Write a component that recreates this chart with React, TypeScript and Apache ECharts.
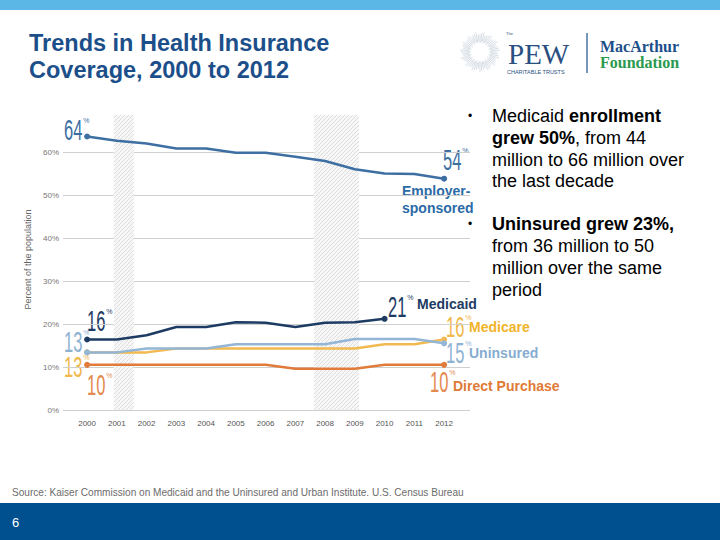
import React, { useEffect, useRef } from "react";
import * as echarts from "echarts";

const years = [2000, 2001, 2002, 2003, 2004, 2005, 2006, 2007, 2008, 2009, 2010, 2011, 2012];
const employer = [63.6, 62.6, 62.0, 60.8, 60.8, 59.8, 59.8, 58.9, 57.9, 56.0, 55.0, 54.9, 53.8];
const medicaid = [16.4, 16.4, 17.4, 19.3, 19.3, 20.4, 20.3, 19.3, 20.3, 20.4, 21.2];
const uninsured = [13.4, 13.4, 14.3, 14.3, 14.3, 15.3, 15.3, 15.3, 15.3, 16.5, 16.5, 16.5, 15.5];
const medicare = [13.4, 13.4, 13.4, 14.3, 14.3, 14.3, 14.3, 14.3, 14.3, 14.3, 15.3, 15.3, 16.4];
const directPurchase = [10.5, 10.5, 10.5, 10.5, 10.5, 10.5, 10.5, 9.6, 9.6, 9.6, 10.5, 10.5, 10.5];
const yTicks = [0, 10, 20, 30, 40, 50, 60];
const recessions = [
  [2000.9, 2001.57],
  [2007.63, 2009.14],
];

const C_EMP = "#3d6fa3";
const C_MCD = "#1d3b63";
const C_UNI = "#93b6d6";
const C_MCR = "#f1b94f";
const C_DIR = "#e17b3a";

function buildData(vals: number[]) {
  return vals.map((v, i) => ({
    value: [years[i], v],
    symbol: i === 0 || i === vals.length - 1 ? "circle" : "none",
    symbolSize: 6,
  }));
}

function bigNum(x: number, yc: number, num: string, color: string) {
  const fs = 30;
  const sx = 0.55;
  const w = num.length * 0.556 * fs * sx;
  return [
    {
      type: "text",
      x,
      y: yc,
      scaleX: sx,
      silent: true,
      style: {
        text: num,
        fill: color,
        font: `normal ${fs}px "Liberation Sans", Arial, sans-serif`,
        textAlign: "left",
        textVerticalAlign: "middle",
      },
    },
    {
      type: "text",
      x: x + w + 1,
      y: yc - 9,
      silent: true,
      style: {
        text: "%",
        fill: color,
        font: `normal 7px "Liberation Sans", Arial, sans-serif`,
        textAlign: "left",
        textVerticalAlign: "middle",
      },
    },
  ];
}

function label(x: number, yc: number, text: string, color: string, fs = 14) {
  return {
    type: "text",
    x,
    y: yc,
    silent: true,
    style: {
      text,
      fill: color,
      font: `bold ${fs}px "Liberation Sans", Arial, sans-serif`,
      textAlign: "left",
      textVerticalAlign: "middle",
    },
  };
}

function richLine(x: number, yc: number, text: string) {
  return {
    type: "text",
    x,
    y: yc,
    silent: true,
    style: {
      text,
      fill: "#000",
      textAlign: "left",
      textVerticalAlign: "middle",
      font: `normal 18px "Liberation Sans", Arial, sans-serif`,
      rich: {
        n: { fontFamily: "Liberation Sans", fontSize: 18, fontWeight: "normal", fill: "#000" },
        b: { fontFamily: "Liberation Sans", fontSize: 18, fontWeight: "bold", fill: "#000" },
      },
    },
  };
}

export default function App() {
  const ref = useRef<HTMLDivElement>(null);
  useEffect(() => {
    document.body.style.margin = "0";
    const chart = echarts.init(ref.current!, null, { renderer: "svg" });

    const cvs = document.createElement("canvas");
    cvs.width = 4;
    cvs.height = 4;
    const ctx = cvs.getContext("2d")!;
    ctx.fillStyle = "#f7f7f7";
    ctx.fillRect(0, 0, 4, 4);
    ctx.strokeStyle = "#d6d6d6";
    ctx.lineWidth = 0.8;
    ctx.beginPath();
    ctx.moveTo(0, 4);
    ctx.lineTo(4, 0);
    ctx.moveTo(-2, 2);
    ctx.lineTo(2, -2);
    ctx.moveTo(2, 6);
    ctx.lineTo(6, 2);
    ctx.stroke();

    const sun: any[] = [];
    for (let a = 0; a < 360; a += 6) {
      const r = (a * Math.PI) / 180;
      const inner = 9 + ((a / 6) % 3);
      const outer = 17 + ((a / 6) % 4);
      sun.push({
        type: "line",
        silent: true,
        shape: {
          x1: 480 + inner * Math.cos(r),
          y1: 52 + inner * Math.sin(r),
          x2: 480 + outer * Math.cos(r),
          y2: 52 + outer * Math.sin(r),
        },
        style: { stroke: "#bcc8d4", lineWidth: 0.6 },
      });
    }

    const lineSeries = (name: string, vals: number[], color: string, extra: any = {}) => ({
      type: "line",
      name,
      data: buildData(vals),
      showSymbol: true,
      symbol: "none",
      clip: false,
      lineStyle: { color, width: 2.5 },
      itemStyle: { color },
      z: 3,
      ...extra,
    });

    const option: any = {
      animation: false,
      backgroundColor: "#ffffff",
      grid: { left: 63, right: 250, top: 109, bottom: 130 },
      xAxis: {
        type: "value",
        min: 1999.19,
        max: 2012.87,
        splitLine: { show: false },
        axisLine: { show: false },
        axisTick: { show: false },
        axisLabel: {
          customValues: years,
          formatter: (v: number) => String(Math.round(v)),
          color: "#555",
          fontSize: 8,
          fontFamily: "Liberation Sans",
          margin: 9,
        },
      },
      yAxis: {
        type: "value",
        min: 0,
        max: 70,
        interval: 10,
        name: "Percent of the population",
        nameLocation: "middle",
        nameGap: 31,
        nameTextStyle: { color: "#666", fontSize: 9, fontFamily: "Liberation Sans" },
        axisLine: { show: false },
        axisTick: { show: false },
        splitLine: {
          lineStyle: {
            color: ["#cfcfcf", "#cfcfcf", "#cfcfcf", "#cfcfcf", "#cfcfcf", "#cfcfcf", "#cfcfcf", "rgba(0,0,0,0)"],
            width: 1,
          },
        },
        axisLabel: {
          customValues: yTicks,
          formatter: (v: number) => v + "%",
          color: "#777",
          fontSize: 8,
          fontFamily: "Liberation Sans",
          margin: 4,
        },
      },
      series: [
        lineSeries("Employer-sponsored", employer, C_EMP, {
          markArea: {
            silent: true,
            z: 1,
            itemStyle: { color: { image: cvs, repeat: "repeat" } },
            data: recessions.map((r) => [
              { xAxis: r[0], yAxis: 0 },
              { xAxis: r[1], yAxis: 68.6 },
            ]),
          },
        }),
        lineSeries("Direct Purchase", directPurchase, C_DIR),
        lineSeries("Medicare", medicare, C_MCR),
        lineSeries("Uninsured", uninsured, C_UNI),
        lineSeries("Medicaid", medicaid, C_MCD),
      ],
      graphic: [
        { type: "rect", silent: true, shape: { x: 0, y: 0, width: 720, height: 10 }, style: { fill: "#5bb8e6" } },
        { type: "rect", silent: true, shape: { x: 0, y: 503, width: 720, height: 37 }, style: { fill: "#00508f" } },
        {
          type: "text",
          x: 12,
          y: 522,
          silent: true,
          style: { text: "6", fill: "#fff", font: 'normal 13px "Liberation Sans", Arial', textVerticalAlign: "middle" },
        },
        {
          type: "text",
          x: 29,
          y: 43,
          silent: true,
          style: {
            text: "Trends in Health Insurance",
            fill: "#1c4f8a",
            font: 'bold 23.5px "Liberation Sans", Arial',
            textVerticalAlign: "middle",
          },
        },
        {
          type: "text",
          x: 29,
          y: 70,
          silent: true,
          style: {
            text: "Coverage, 2000 to 2012",
            fill: "#1c4f8a",
            font: 'bold 23.5px "Liberation Sans", Arial',
            textVerticalAlign: "middle",
          },
        },
        ...sun,
        {
          type: "text",
          x: 508,
          y: 54,
          silent: true,
          style: { text: "PEW", fill: "#2a4f80", font: 'normal 29px "Liberation Serif", serif', textVerticalAlign: "middle" },
        },
        {
          type: "text",
          x: 506,
          y: 33,
          silent: true,
          style: { text: "The", fill: "#2a4f80", font: 'normal 4px "Liberation Sans"', textVerticalAlign: "middle" },
        },
        {
          type: "text",
          x: 507,
          y: 72,
          silent: true,
          style: { text: "CHARITABLE TRUSTS", fill: "#2a4f80", font: 'normal 5.5px "Liberation Sans"', textVerticalAlign: "middle" },
        },
        { type: "line", silent: true, shape: { x1: 587, y1: 33, x2: 587, y2: 73 }, style: { stroke: "#1c4f8a", lineWidth: 1.2 } },
        {
          type: "text",
          x: 600,
          y: 46,
          silent: true,
          style: { text: "MacArthur", fill: "#1c4f8a", font: 'bold 16px "Liberation Serif", serif', textVerticalAlign: "middle" },
        },
        {
          type: "text",
          x: 600,
          y: 62,
          silent: true,
          style: { text: "Foundation", fill: "#2a9a4e", font: 'bold 16px "Liberation Serif", serif', textVerticalAlign: "middle" },
        },
        ...bigNum(64, 129, "64", C_EMP),
        ...bigNum(443, 159, "54", C_EMP),
        ...bigNum(388, 306, "21", C_MCD),
        ...bigNum(87, 320, "16", C_MCD),
        ...bigNum(64, 341, "13", "#8fb2d2"),
        ...bigNum(64, 366, "13", "#f0b84a"),
        ...bigNum(87, 384, "10", "#e38a4e"),
        ...bigNum(446, 326, "16", "#f0b84a"),
        ...bigNum(446, 352, "15", "#8fb2d2"),
        ...bigNum(430, 381, "10", "#e38a4e"),
        label(402, 191, "Employer-", "#2b6aa6"),
        label(402, 208, "sponsored", "#2b6aa6"),
        label(417, 304, "Medicaid", C_MCD),
        label(469, 327, "Medicare", "#f0b429"),
        label(469, 353, "Uninsured", "#86acd0"),
        label(453, 386, "Direct Purchase", "#e07a35"),
        {
          type: "text",
          x: 468,
          y: 116,
          silent: true,
          style: { text: "•", fill: "#000", font: 'normal 12px "Liberation Sans"', textVerticalAlign: "middle" },
        },
        richLine(492, 116, "{n|Medicaid }{b|enrollment}"),
        richLine(492, 138, "{b|grew 50%}{n|, from 44}"),
        richLine(492, 160, "{n|million to 66 million over}"),
        richLine(492, 181, "{n|the last decade}"),
        {
          type: "text",
          x: 468,
          y: 224,
          silent: true,
          style: { text: "•", fill: "#000", font: 'normal 12px "Liberation Sans"', textVerticalAlign: "middle" },
        },
        richLine(492, 224, "{b|Uninsured grew 23%,}"),
        richLine(492, 246, "{n|from 36 million to 50}"),
        richLine(492, 268, "{n|million over the same}"),
        richLine(492, 290, "{n|period}"),
        {
          type: "text",
          x: 12,
          y: 492,
          scaleX: 0.96,
          silent: true,
          style: {
            text: "Source: Kaiser Commission on Medicaid and the Uninsured and Urban Institute. U.S. Census Bureau",
            fill: "#6b6b6b",
            font: 'normal 10.5px "Liberation Sans", Arial',
            textVerticalAlign: "middle",
          },
        },
      ],
    };
    chart.setOption(option);
    return () => chart.dispose();
  }, []);
  return <div ref={ref} style={{ width: 720, height: 540 }} />;
}
